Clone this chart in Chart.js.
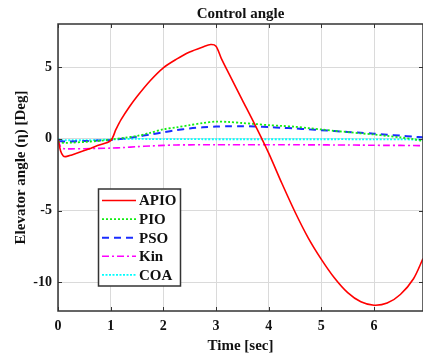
<!DOCTYPE html>
<html>
<head>
<meta charset="utf-8">
<script src="https://cdn.jsdelivr.net/npm/chart.js@4.4.0/dist/chart.umd.min.js"></script>
<style>
  html, body { margin: 0; padding: 0; background: #fff; }
  #wrap { width: 423px; height: 357px; }
</style>
</head>
<body>
<div id="wrap"><canvas id="chart" width="423" height="357"></canvas></div>
<script>
// APIO has its own, denser time samples around the corners [sec]
const timeApio = [0, 0.05, 0.1, 0.15, 0.25, 0.5, 0.75, 1, 1.1, 1.2, 1.35, 1.5, 1.75, 2, 2.25, 2.5, 2.75, 2.9, 3,
  3.1, 3.25, 3.5, 3.75, 4, 4.25, 4.5, 4.75, 5, 5.25, 5.5, 5.75, 6, 6.25, 6.5, 6.75, 6.93];
const apio = [0, -0.85, -1.2, -1.24, -1.14, -0.82, -0.47, -0.12, 0.65, 1.35, 2.2, 2.95, 4.05, 4.95, 5.55, 6.05, 6.4, 6.57, 6.45,
  5.6, 4.5, 2.7, 0.9, -1.0, -3.1, -5.1, -6.9, -8.4, -9.7, -10.72, -11.36, -11.6, -11.45, -10.85, -9.75, -8.35];

// shared time samples for the other methods [sec]
const time = [0, 0.05, 0.1, 0.15, 0.25, 0.5, 0.75, 1, 1.25, 1.5, 1.75, 2, 2.25, 2.5, 2.75, 3, 3.25, 3.5, 3.75,
  4, 4.25, 4.5, 4.75, 5, 5.25, 5.5, 5.75, 6, 6.25, 6.5, 6.75, 6.93];
const pio = [-0.2, -0.25, -0.28, -0.28, -0.27, -0.22, -0.15, -0.05, 0.07, 0.2, 0.42, 0.66, 0.8, 0.95, 1.1, 1.2,
  1.17, 1.1, 1.03, 0.95, 0.9, 0.84, 0.75, 0.65, 0.55, 0.47, 0.38, 0.3, 0.2, 0.1, -0.03, -0.15];
const pso = [-0.15, -0.17, -0.18, -0.18, -0.18, -0.16, -0.12, -0.08, 0.02, 0.15, 0.3, 0.45, 0.6, 0.72, 0.8, 0.85,
  0.88, 0.88, 0.86, 0.82, 0.77, 0.72, 0.66, 0.6, 0.54, 0.48, 0.42, 0.36, 0.29, 0.22, 0.15, 0.1];
const kin = [-0.1, -0.55, -0.68, -0.7, -0.7, -0.69, -0.67, -0.65, -0.61, -0.55, -0.5, -0.46, -0.43, -0.42, -0.41, -0.41,
  -0.41, -0.41, -0.41, -0.41, -0.41, -0.41, -0.42, -0.42, -0.43, -0.43, -0.44, -0.45, -0.46, -0.46, -0.47, -0.48];
const coa = [0, -0.08, -0.1, -0.1, -0.1, -0.1, -0.08, -0.05, -0.02, 0, -0.02, -0.02, -0.02, -0.02, -0.03, -0.03,
  -0.03, -0.03, -0.03, -0.03, -0.03, -0.03, -0.03, -0.03, -0.03, -0.03, -0.04, -0.04, -0.04, -0.04, -0.05, -0.05];

const xTicks = [0, 1, 2, 3, 4, 5, 6];
const yTicks = [-10, -5, 0, 5];

const serif = "'Liberation Serif', 'Times New Roman', serif";
const toPoints = (ts, ys) => ts.map((t, i) => ({ x: t, y: ys[i] }));

function series(label, ts, ys, color, dash, width) {
  return {
    label: label,
    data: toPoints(ts, ys),
    borderColor: color,
    borderWidth: width,
    borderDash: dash,
    pointRadius: 0,
    fill: false,
    tension: 0.3
  };
}

// inward ticks, axes box and the boxed legend, drawn like the original figure
const matlabLook = {
  id: 'matlabLook',
  afterDatasetsDraw(chart) {
    const ctx = chart.ctx;
    const { left, right, top, bottom } = chart.chartArea;
    const xs = chart.scales.x, ys = chart.scales.y;
    ctx.save();
    ctx.strokeStyle = '#333';
    ctx.lineWidth = 1;
    ctx.setLineDash([]);
    ctx.beginPath();
    xTicks.forEach(v => {
      const px = Math.round(xs.getPixelForValue(v)) + 0.5;
      ctx.moveTo(px, bottom); ctx.lineTo(px, bottom - 4);
      ctx.moveTo(px, top); ctx.lineTo(px, top + 4);
    });
    yTicks.forEach(v => {
      const py = Math.round(ys.getPixelForValue(v)) + 0.5;
      ctx.moveTo(left, py); ctx.lineTo(left + 4, py);
      ctx.moveTo(right, py); ctx.lineTo(right - 4, py);
    });
    ctx.stroke();

    ctx.lineWidth = 1.5;
    ctx.strokeRect(left, top, right - left, bottom - top);

    // legend
    const bx = 98.5, by = 189, bw = 82, bh = 97;
    ctx.fillStyle = '#fff';
    ctx.fillRect(bx, by, bw, bh);
    ctx.strokeStyle = '#333';
    ctx.lineWidth = 1.5;
    ctx.strokeRect(bx, by, bw, bh);
    ctx.font = 'bold 15px ' + serif;
    ctx.textBaseline = 'middle';
    ctx.textAlign = 'left';
    chart.data.datasets.forEach((ds, i) => {
      const y = by + 11.5 + i * 18.6;
      ctx.strokeStyle = ds.borderColor;
      ctx.lineWidth = ds.borderWidth;
      ctx.setLineDash(ds.borderDash);
      ctx.beginPath();
      ctx.moveTo(102, y);
      ctx.lineTo(136, y);
      ctx.stroke();
      ctx.setLineDash([]);
      ctx.fillStyle = '#111';
      ctx.fillText(ds.label, 139, y + 1);
    });
    ctx.restore();
  }
};

new Chart(document.getElementById('chart').getContext('2d'), {
  type: 'line',
  data: {
    datasets: [
      series('APIO', timeApio, apio, '#ff0000', [], 1.6),
      series('PIO', time, pio, '#11ee11', [2, 2], 1.8),
      series('PSO', time, pso, '#1a2cff', [7, 5], 2),
      series('Kin', time, kin, '#ff00ff', [7, 3, 2, 3], 1.6),
      series('COA', time, coa, '#00ffff', [2, 1.5], 1.8)
    ]
  },
  options: {
    responsive: false,
    animation: false,
    devicePixelRatio: 1,
    layout: { padding: 0 },
    plugins: {
      legend: { display: false },
      tooltip: { enabled: false },
      title: {
        display: true,
        text: 'Control angle',
        fullSize: false,
        color: '#111',
        font: { family: serif, size: 15, weight: 'bold' },
        padding: { top: 5, bottom: 1 }
      }
    },
    scales: {
      x: {
        type: 'linear',
        min: 0,
        max: 6.93,
        afterBuildTicks: scale => { scale.ticks = xTicks.map(v => ({ value: v })); },
        afterFit: scale => { scale.height = 46; },
        grid: { color: '#dadada', lineWidth: 1, drawTicks: false },
        border: { display: false },
        ticks: { padding: 7, color: '#111', font: { family: serif, size: 14, weight: 'bold' } },
        title: {
          display: true,
          text: 'Time [sec]',
          color: '#111',
          font: { family: serif, size: 15, weight: 'bold' },
          padding: { top: 0, bottom: 2 }
        }
      },
      y: {
        min: -12,
        max: 8,
        afterBuildTicks: scale => { scale.ticks = yTicks.map(v => ({ value: v })); },
        afterFit: scale => { scale.width = 58; },
        grid: { color: '#dadada', lineWidth: 1, drawTicks: false },
        border: { display: false },
        ticks: { padding: 6, color: '#111', font: { family: serif, size: 14, weight: 'bold' } },
        title: {
          display: true,
          text: 'Elevator angle (η) [Deg]',
          color: '#111',
          font: { family: serif, size: 15, weight: 'bold' },
          padding: { top: 12, bottom: 0 }
        }
      }
    }
  },
  plugins: [matlabLook]
});
</script>
</body>
</html>
